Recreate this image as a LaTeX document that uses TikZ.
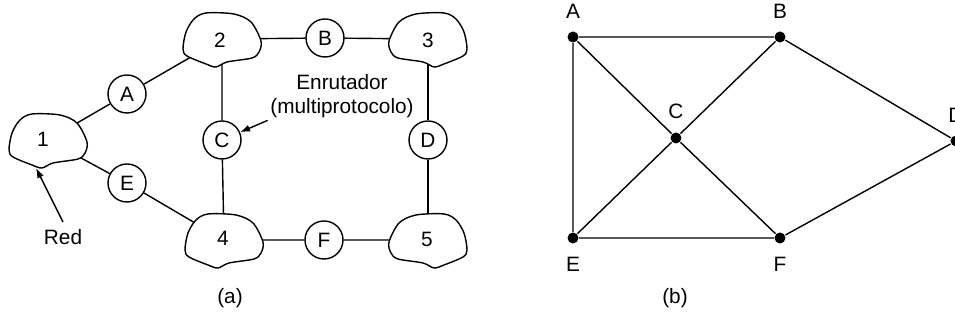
\documentclass[tikz,border=0pt]{standalone}
\usepackage{fontspec}
\setmainfont{Liberation Sans}
\usetikzlibrary{arrows.meta}

% outline of one network, #1 = centre, #2 = xscale (1 or -1)
\newcommand{\netblob}[2]{%
  \filldraw[fill=white, shift={(#1)}, xscale=#2]
    plot[smooth cycle] coordinates {(-16,-26) (12,-25) (29,-17) (39,2) (37,13)
      (30,19) (5,23) (-6,28) (-16,25) (-35,17) (-39,10) (-36,-7) (-28,-20)};}

\begin{document}
\begin{tikzpicture}[x=0.5pt, y=-0.5pt, line width=0.7pt,
    font=\fontsize{10.4}{12}\selectfont,
    router/.style={circle, draw, minimum size=19pt, inner sep=0pt},
    host/.style={circle, fill, minimum size=5.5pt, inner sep=0pt},
    every label/.style={inner sep=0pt}, label distance=6pt,
    >={Latex[length=5pt, width=3.5pt]}]
    \useasboundingbox (0,0) rectangle (955,324);

    % (a)
    \coordinate (n1) at (48,140);
    \coordinate (n2) at (222,39);
    \coordinate (n3) at (428,39);
    \coordinate (n4) at (224,240);
    \coordinate (n5) at (428,240);
    \node[router] (A) at (127,94) {A};
    \node[router] (B) at (325,38) {B};
    \node[router] (C) at (222,140) {C};
    \node[router] (D) at (428,140) {D};
    \node[router] (E) at (127,183) {E};
    \node[router] (F) at (324,240) {F};
    \draw (n1) -- (A) -- (n2) -- (B) -- (n3);
    \draw (n1) -- (E) -- (n4) -- (F) -- (n5);
    \draw (n2) -- (C) -- (n4);
    \draw (n3) -- (D) -- (n5);
    \netblob{n1}{1}
    \netblob{n2}{1}
    \netblob{n3}{-1}
    \netblob{n4}{1}
    \netblob{n5}{-1}
    \node (l1) at (43,139) {1};
    \node (l2) at (220,40) {2};
    \node (l3) at (428,40) {3};
    \node (l4) at (223,238) {4};
    \node (l5) at (427,239) {5};
    \node[align=center, inner sep=1pt] (rtext) at (342,96) {Enrutador\\(multiprotocolo)};
    \draw[->] (rtext.south west) -- (C);
    \node (red) at (63,237) {Red};
    \coordinate (n1dip) at (36,168);
    \draw[->] (red.north) -- (n1dip);
    \node (capa) at (230,298) {(a)};

    % (b)
    \node[host, label=above:A] (gA) at (573,37) {};
    \node[host, label=above:B] (gB) at (780,37) {};
    \node[host, label=above:C] (gC) at (676,138) {};
    \node[host, label=above:D] (gD) at (956,141) {};
    \node[host, label=below:E] (gE) at (573,238) {};
    \node[host, label=below:F] (gF) at (780,238) {};
    \draw (gA) -- (gB) -- (gD) -- (gF) -- (gE) -- (gA);
    \draw (gA) -- (gC) -- (gF);
    \draw (gE) -- (gC) -- (gB);
    \node (capb) at (675,298) {(b)};
\end{tikzpicture}
\end{document}
